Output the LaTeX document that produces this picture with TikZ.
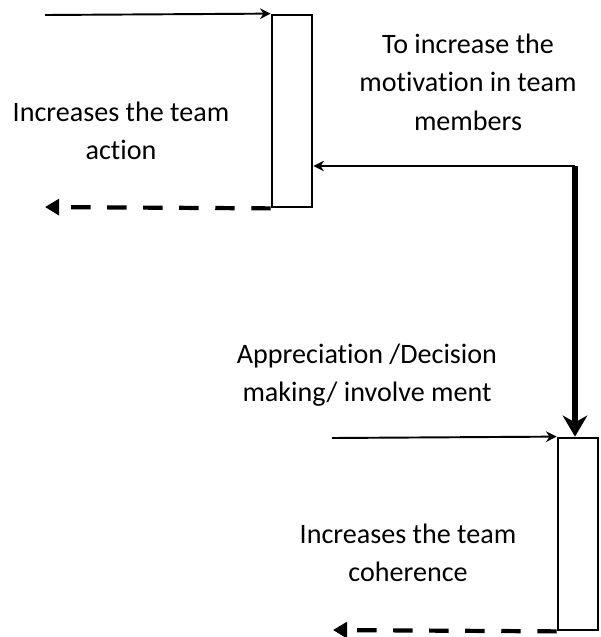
\documentclass[tikz,border=0pt]{standalone}
\usepackage{fontspec}
\setmainfont[Ligatures=NoCommon]{Carlito}
\usetikzlibrary{arrows.meta}

\tikzset{
  bar/.style={draw, line width=1.6pt, minimum width=0.8cm, minimum height=3.84cm, inner sep=0pt},
  label/.style={align=center, font=\fontsize{16}{22}\selectfont},
  thinline/.style={line width=1.1pt, -{Stealth[length=6pt,width=6pt]}},
  dashline/.style={line width=2.4pt, dash pattern=on 11pt off 9.5pt, -{Triangle[length=8pt,width=9pt]}},
  fatline/.style={line width=3.4pt, -{Stealth[length=12pt,width=14pt]}}
}

\begin{document}
\begin{tikzpicture}[x=0.02cm, y=-0.02cm]
        \useasboundingbox (0, 0) rectangle (600, 637);
        % the two bars
        \node[bar] (action) at (292, 111) {};
        \node[bar] (coher) at (578, 534) {};
        \coordinate (topA) at (45, 15);
        \coordinate (endA) at (45, 207);
        \coordinate (topB) at (332, 438);
        \coordinate (endB) at (333, 630);
        \coordinate (turn) at (575, 166);
        % connectors
        \draw[thinline] (topA) -- (action.north west);
        \draw[dashline] (action.south west) -- (endA);
        \draw[thinline] (turn) -- (action.east |- turn);
        \draw[fatline] (turn) -- (coher.north -| turn);
        \draw[thinline] (topB) -- (coher.north west);
        \draw[dashline] (coher.south west) -- (endB);
        % texts
        \node[label] (t1) at (121, 131) {Increases the team\\action};
        \node[label] (t2) at (468, 82) {To increase the\\motivation in team\\members};
        \node[label] (t3) at (367, 375) {Appreciation /Decision\\making/ involve ment};
        \node[label] (t4) at (408, 553) {Increases the team\\coherence};
\end{tikzpicture}
\end{document}
